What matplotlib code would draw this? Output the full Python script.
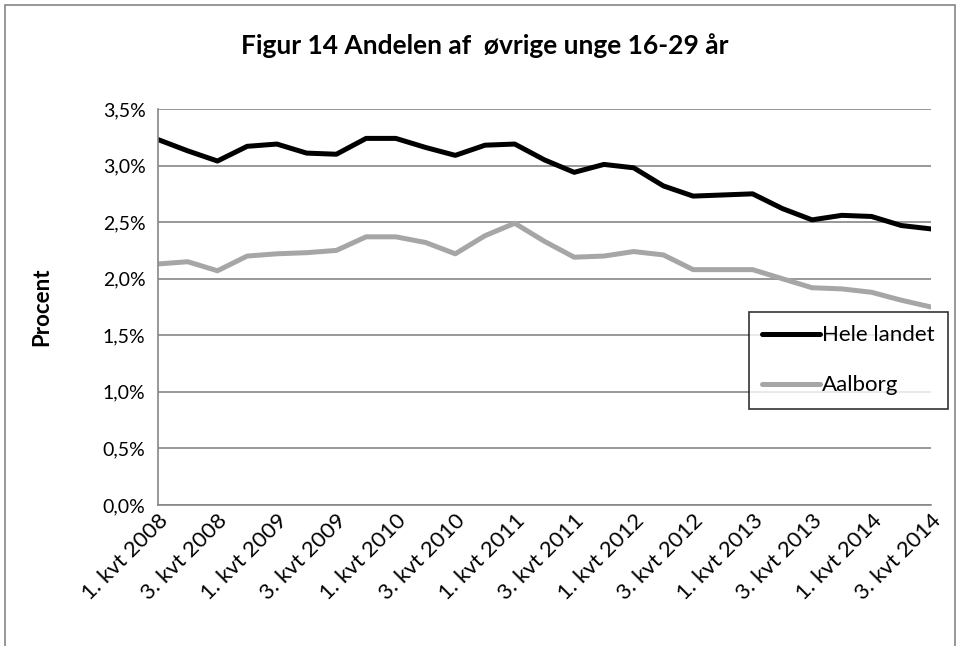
import matplotlib.pyplot as plt
from matplotlib.ticker import FuncFormatter
from matplotlib.patches import Rectangle

plt.rcParams['font.family'] = ['Lato', 'DejaVu Sans']

# Kvartaler 1. kvt 2008 - 3. kvt 2014
kvartaler = []
for aar in range(2008, 2015):
    for k in range(1, 5):
        kvartaler.append(f"{k}. kvt {aar}")
kvartaler = kvartaler[:27]

hele_landet = [3.23, 3.13, 3.04, 3.17, 3.19, 3.11, 3.10, 3.24, 3.24, 3.16,
               3.09, 3.18, 3.19, 3.05, 2.94, 3.01, 2.98, 2.82, 2.73, 2.74,
               2.75, 2.62, 2.52, 2.56, 2.55, 2.47, 2.44]
aalborg = [2.13, 2.15, 2.07, 2.20, 2.22, 2.23, 2.25, 2.37, 2.37, 2.32,
           2.22, 2.38, 2.49, 2.33, 2.19, 2.20, 2.24, 2.21, 2.08, 2.08,
           2.08, 2.00, 1.92, 1.91, 1.88, 1.81, 1.75]

fig = plt.figure(figsize=(9.58, 6.46), dpi=100)
ax = fig.add_axes([0.1649, 0.2183, 0.8069, 0.6130])

x = range(len(kvartaler))
ax.plot(x, hele_landet, color='black', lw=3.6, label='Hele landet', solid_capstyle='round')
ax.plot(x, aalborg, color='#a6a6a6', lw=3.6, label='Aalborg', solid_capstyle='round')

ax.set_xlim(0, len(kvartaler) - 1)
ax.set_ylim(0, 3.5)
ax.set_yticks([0, 0.5, 1.0, 1.5, 2.0, 2.5, 3.0, 3.5])
ax.yaxis.set_major_formatter(FuncFormatter(lambda v, p: f"{v:.1f}%".replace('.', ',')))
ax.grid(axis='y', color='#868686', lw=1.2)
ax.set_axisbelow(True)

ax.set_xticks(list(x)[::2])
ax.set_xticklabels(kvartaler[::2], rotation=45, ha='right', rotation_mode='anchor')
ax.tick_params(axis='y', labelsize=14, length=0, pad=9)
ax.tick_params(axis='x', labelsize=16, length=0, pad=4)

for s in ['top', 'right']:
    ax.spines[s].set_visible(False)
for s in ['left', 'bottom']:
    ax.spines[s].set_color('#868686')
    ax.spines[s].set_linewidth(1.2)

ax.set_ylabel('Procent', fontsize=16, fontweight='bold', labelpad=36)
fig.text(0.506, 0.93, 'Figur 14 Andelen af  øvrige unge 16-29 år',
         ha='center', va='center', fontsize=19, fontweight='bold')

leg = ax.legend(loc='upper left', bbox_to_anchor=(749 / 958, 1 - 312 / 646),
                bbox_transform=fig.transFigure, fontsize=16, frameon=True,
                fancybox=False, handlelength=2.6, handletextpad=0.1,
                labelspacing=1.35, borderpad=0.6, borderaxespad=0)
leg.get_frame().set_edgecolor('black')
leg.get_frame().set_linewidth(1.2)

# ydre ramme
fig.patches.append(Rectangle((5 / 958, -0.05), 950 / 958, 1.04 - 5 / 646 + 0.01,
                             transform=fig.transFigure, fill=False,
                             edgecolor='#868686', lw=1.2))

fig.savefig('out.png', dpi=100)
